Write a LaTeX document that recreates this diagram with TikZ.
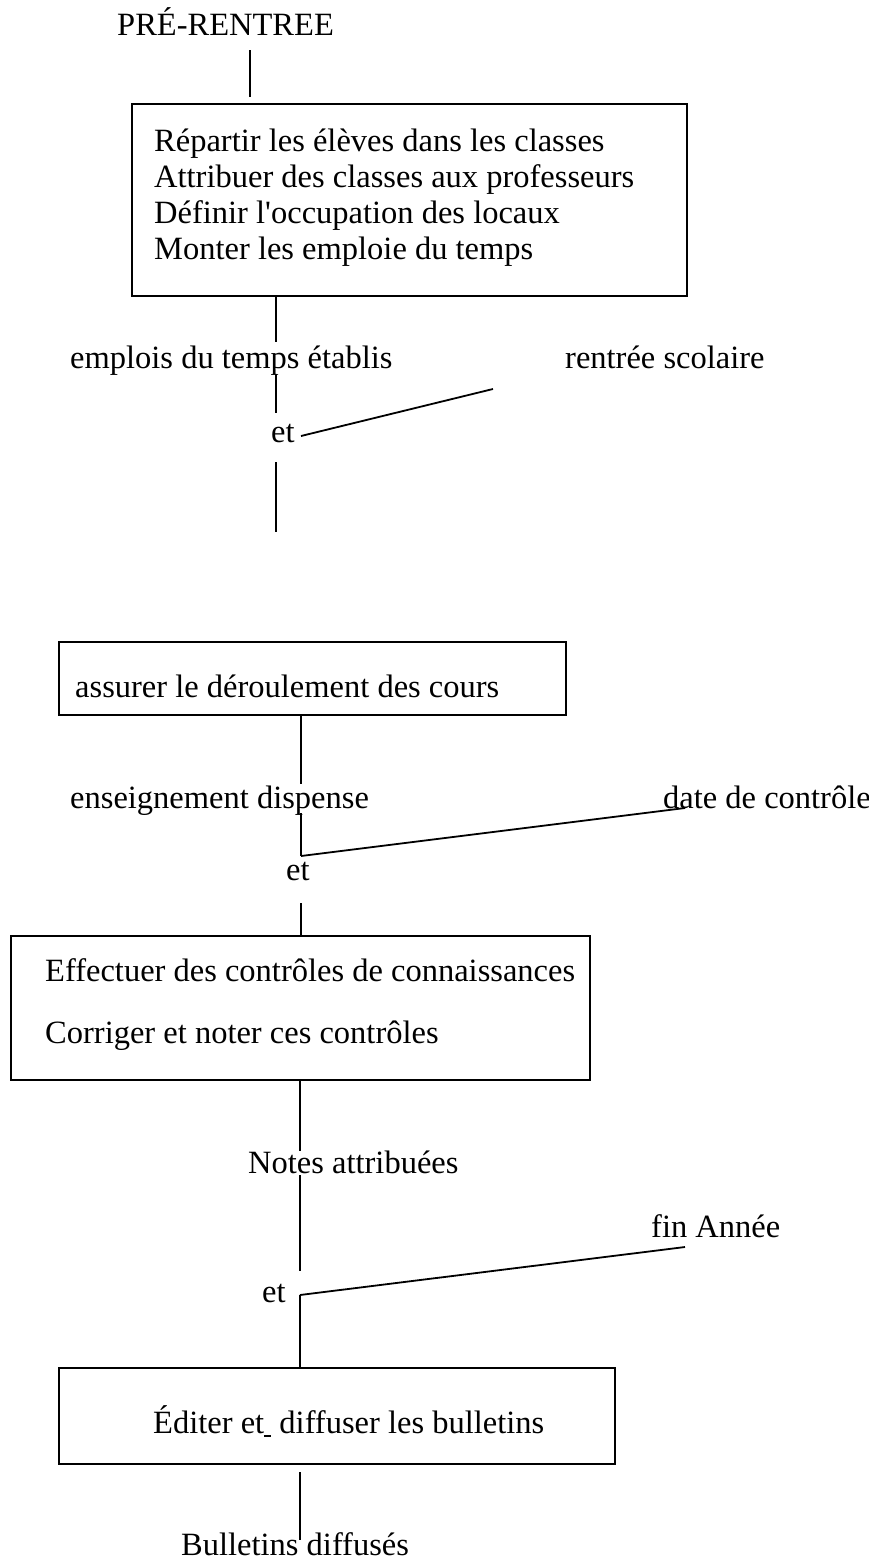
\documentclass[tikz,border=0pt]{standalone}
\usepackage{fontspec}
\setmainfont{Liberation Serif}
\begin{document}
\begin{tikzpicture}[x=1pt,y=-1pt,
  lbl/.style={anchor=base west, inner sep=0pt, font=\fontsize{32.5}{36}\selectfont},
  boxst/.style={draw, line width=1.8pt, inner sep=0pt, anchor=north west},
  conn/.style={line width=1.4pt},
  diag/.style={line width=1.8pt},
]
\useasboundingbox (0,0) rectangle (869,1561);

% --- texts
\node[lbl] (pre) at (117,35) {PRÉ-RENTREE};
\node[boxst, minimum width=555pt, minimum height=192pt] (b1) at (131,103) {};
\node[lbl] (r1) at (154,151) {Répartir les élèves dans les classes};
\node[lbl] (r2) at (154,187) {Attribuer des classes aux professeurs};
\node[lbl] (r3) at (154,223) {Définir l\textquotesingle occupation des locaux};
\node[lbl] (r4) at (154,259) {Monter les emploie du temps};

\node[lbl] (e1) at (70,368) {emplois du temps établis};
\node[lbl] (e2) at (565,368) {rentrée scolaire};
\node[lbl] (et1) at (271,442) {et};

\node[boxst, minimum width=507pt, minimum height=73pt] (b2) at (58,641) {};
\node[lbl] (s1) at (75,697) {assurer le déroulement des cours};

\node[lbl] (f1) at (70,808) {enseignement dispense};
\node[lbl] (f2) at (663,808) {date de contrôle};
\node[lbl] (et2) at (286,880) {et};

\node[boxst, minimum width=579pt, minimum height=144pt] (b3) at (10,935) {};
\node[lbl] (k1) at (45,981) {Effectuer des contrôles de connaissances};
\node[lbl] (k2) at (45,1043) {Corriger et noter ces contrôles};

\node[lbl] (n1) at (248,1173) {Notes attribuées};
\node[lbl] (n2) at (651,1237) {fin Année};
\node[lbl] (et3) at (262,1302) {et};

\node[boxst, minimum width=556pt, minimum height=96pt] (b4) at (58,1367) {};
\node[lbl] (d1) at (153,1433) {Éditer et\rule[-0.12em]{0.22em}{0.05em} diffuser les bulletins};
\node[lbl] (d2) at (181,1555) {Bulletins diffusés};

% --- connector end points
\coordinate (p1a) at (250,50);
\coordinate (p1b) at (250,97);
\coordinate (p2a) at (276,295);
\coordinate (p2b) at (276,342);
\coordinate (p3a) at (276,374);
\coordinate (p3b) at (276,413);
\coordinate (j1) at (301,436);
\coordinate (q1) at (493,389);
\coordinate (p4a) at (276,462);
\coordinate (p4b) at (276,532);

\coordinate (p5a) at (301,714);
\coordinate (p5b) at (301,784);
\coordinate (p6a) at (301,813);
\coordinate (j2) at (301,856);
\coordinate (q2) at (685,808);
\coordinate (p7a) at (301,903);

\coordinate (p8a) at (300,1079);
\coordinate (p8b) at (300,1151);
\coordinate (p9a) at (300,1175);
\coordinate (p9b) at (300,1271);
\coordinate (j3) at (300,1295);
\coordinate (q3) at (685,1247);
\coordinate (p10a) at (300,1472);
\coordinate (p10b) at (300,1540);

% --- connectors
\draw[conn] (p1a) -- (p1b);
\draw[conn] (p2a |- b1.south) -- (p2b);
\draw[conn] (p3a) -- (p3b);
\draw[diag] (j1) -- (q1);
\draw[conn] (p4a) -- (p4b);

\draw[conn] (p5a |- b2.south) -- (p5b);
\draw[conn] (p6a) -- (j2);
\draw[diag] (j2) -- (q2);
\draw[conn] (p7a) -- (p7a |- b3.north);

\draw[conn] (p8a |- b3.south) -- (p8b);
\draw[conn] (p9a) -- (p9b);
\draw[diag] (j3) -- (q3);
\draw[conn] (j3) -- (j3 |- b4.north);
\draw[conn] (p10a) -- (p10b);
\end{tikzpicture}
\end{document}
